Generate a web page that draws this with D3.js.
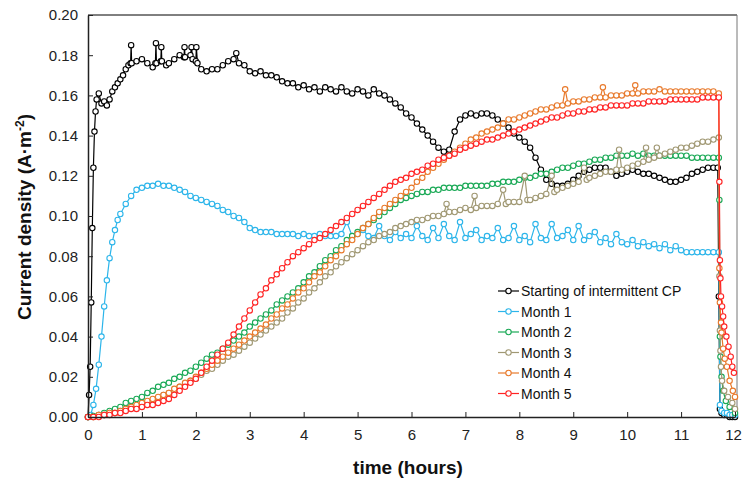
<!DOCTYPE html>
<html>
<head>
<meta charset="utf-8">
<script src="https://cdn.jsdelivr.net/npm/d3@7/dist/d3.min.js"></script>
<style>
  body { margin: 0; background: #fff; }
  text { font-family: Arial, "Liberation Sans", sans-serif; }
</style>
</head>
<body>
<svg id="chart" width="742" height="483"></svg>
<script>
// series data: [time (h), current density (A/m2)]
var startCP = [[0,0],[0.02,0.011],[0.04,0.025],[0.06,0.057],[0.08,0.094],[0.1,0.124],[0.12,0.142],[0.14,0.152],[0.16,0.158],[0.2,0.161],[0.25,0.156],[0.3,0.157],[0.35,0.155],[0.4,0.158],[0.45,0.162],[0.5,0.164],[0.55,0.166],[0.6,0.168],[0.65,0.170],[0.7,0.173],[0.75,0.175],[0.79,0.176],[0.8,0.185],[0.81,0.176],[0.9,0.177],[1.0,0.178],[1.1,0.176],[1.2,0.174],[1.25,0.176],[1.26,0.186],[1.27,0.176],[1.35,0.177],[1.36,0.184],[1.37,0.177],[1.45,0.175],[1.5,0.176],[1.6,0.178],[1.7,0.180],[1.78,0.179],[1.79,0.184],[1.8,0.179],[1.9,0.180],[1.92,0.184],[1.94,0.178],[2.0,0.177],[2.01,0.184],[2.03,0.176],[2.1,0.173],[2.2,0.172],[2.3,0.173],[2.4,0.173],[2.5,0.175],[2.6,0.177],[2.7,0.178],[2.75,0.181],[2.8,0.176],[2.9,0.175],[3.0,0.172],[3.1,0.171],[3.2,0.172],[3.3,0.170],[3.4,0.170],[3.5,0.169],[3.6,0.167],[3.7,0.166],[3.8,0.166],[3.9,0.164],[4.0,0.165],[4.1,0.163],[4.2,0.164],[4.3,0.162],[4.4,0.164],[4.5,0.163],[4.6,0.162],[4.7,0.164],[4.8,0.162],[4.9,0.161],[5.0,0.163],[5.1,0.162],[5.2,0.160],[5.3,0.163],[5.4,0.161],[5.5,0.160],[5.6,0.158],[5.7,0.156],[5.8,0.154],[5.9,0.151],[6.0,0.149],[6.1,0.146],[6.2,0.143],[6.3,0.140],[6.4,0.137],[6.5,0.134],[6.6,0.132],[6.7,0.133],[6.8,0.142],[6.9,0.148],[7.0,0.150],[7.1,0.151],[7.2,0.150],[7.3,0.151],[7.4,0.151],[7.5,0.150],[7.6,0.148],[7.7,0.146],[7.8,0.144],[7.9,0.141],[8.0,0.139],[8.1,0.137],[8.2,0.134],[8.3,0.129],[8.4,0.123],[8.5,0.118],[8.6,0.116],[8.7,0.115],[8.8,0.115],[8.9,0.116],[9.0,0.118],[9.1,0.120],[9.2,0.122],[9.3,0.123],[9.4,0.124],[9.5,0.124],[9.6,0.124],[9.7,0.122],[9.8,0.120],[9.9,0.121],[10.0,0.122],[10.1,0.123],[10.2,0.122],[10.3,0.121],[10.4,0.121],[10.5,0.120],[10.6,0.119],[10.7,0.118],[10.8,0.117],[10.9,0.117],[11.0,0.118],[11.1,0.119],[11.2,0.121],[11.3,0.122],[11.4,0.123],[11.5,0.124],[11.6,0.124],[11.68,0.124],[11.7,0.060],[11.72,0.004],[11.75,0.002],[11.8,0.001],[11.85,0.001],[11.9,0.000],[11.95,0.000],[12.0,0.000]];

var month1 = [[0,0],[0.05,0.001],[0.1,0.006],[0.15,0.014],[0.2,0.026],[0.25,0.040],[0.3,0.055],[0.35,0.068],[0.4,0.079],[0.45,0.087],[0.5,0.093],[0.55,0.098],[0.6,0.101],[0.7,0.106],[0.8,0.110],[0.9,0.113],[1.0,0.114],[1.1,0.115],[1.2,0.115],[1.3,0.116],[1.4,0.115],[1.5,0.115],[1.6,0.114],[1.7,0.113],[1.8,0.112],[1.9,0.110],[2.0,0.109],[2.1,0.108],[2.2,0.107],[2.3,0.106],[2.4,0.105],[2.5,0.103],[2.6,0.102],[2.7,0.100],[2.8,0.099],[2.9,0.097],[3.0,0.094],[3.1,0.093],[3.2,0.092],[3.3,0.092],[3.4,0.092],[3.5,0.091],[3.6,0.091],[3.7,0.091],[3.8,0.091],[3.9,0.090],[4.0,0.091],[4.1,0.090],[4.2,0.090],[4.3,0.091],[4.4,0.090],[4.5,0.090],[4.6,0.090],[4.7,0.091],[4.8,0.097],[4.9,0.090],[5.0,0.091],[5.1,0.093],[5.2,0.090],[5.3,0.089],[5.4,0.095],[5.5,0.090],[5.6,0.088],[5.7,0.092],[5.8,0.089],[5.9,0.091],[6.0,0.089],[6.1,0.095],[6.2,0.090],[6.3,0.088],[6.4,0.094],[6.5,0.089],[6.6,0.096],[6.7,0.090],[6.8,0.088],[6.9,0.097],[7.0,0.089],[7.1,0.091],[7.2,0.093],[7.3,0.088],[7.4,0.090],[7.5,0.089],[7.6,0.094],[7.7,0.088],[7.8,0.089],[7.9,0.095],[8.0,0.088],[8.1,0.090],[8.2,0.087],[8.3,0.096],[8.4,0.089],[8.5,0.088],[8.6,0.096],[8.7,0.089],[8.8,0.090],[8.9,0.093],[9.0,0.088],[9.1,0.095],[9.2,0.088],[9.3,0.090],[9.4,0.092],[9.5,0.087],[9.6,0.089],[9.7,0.086],[9.8,0.091],[9.9,0.087],[10.0,0.086],[10.1,0.088],[10.2,0.085],[10.3,0.087],[10.4,0.085],[10.5,0.086],[10.6,0.084],[10.7,0.086],[10.8,0.083],[10.9,0.085],[11.0,0.083],[11.1,0.082],[11.2,0.082],[11.3,0.082],[11.4,0.082],[11.5,0.082],[11.6,0.082],[11.7,0.082],[11.72,0.006],[11.75,0.003],[11.8,0.002],[11.85,0.002],[11.9,0.001],[11.95,0.001],[12.0,0.001]];

var month2 = [[0,0],[0.1,0.0005],[0.2,0.001],[0.3,0.002],[0.4,0.003],[0.5,0.004],[0.6,0.005],[0.7,0.007],[0.8,0.008],[0.9,0.009],[1.0,0.010],[1.1,0.012],[1.2,0.013],[1.3,0.015],[1.4,0.016],[1.5,0.017],[1.6,0.019],[1.7,0.020],[1.8,0.022],[1.9,0.023],[2.0,0.025],[2.1,0.027],[2.2,0.029],[2.3,0.031],[2.4,0.032],[2.5,0.034],[2.6,0.036],[2.7,0.038],[2.8,0.040],[2.9,0.042],[3.0,0.045],[3.1,0.047],[3.2,0.049],[3.3,0.051],[3.4,0.053],[3.5,0.056],[3.6,0.058],[3.7,0.060],[3.8,0.062],[3.9,0.064],[4.0,0.067],[4.1,0.070],[4.2,0.072],[4.3,0.075],[4.4,0.078],[4.5,0.080],[4.6,0.083],[4.7,0.085],[4.8,0.088],[4.9,0.090],[5.0,0.092],[5.1,0.094],[5.2,0.096],[5.3,0.098],[5.4,0.100],[5.5,0.102],[5.6,0.104],[5.7,0.106],[5.8,0.108],[5.9,0.109],[6.0,0.110],[6.1,0.111],[6.2,0.112],[6.3,0.112],[6.4,0.113],[6.5,0.113],[6.6,0.114],[6.7,0.114],[6.8,0.114],[6.9,0.114],[7.0,0.115],[7.1,0.115],[7.2,0.115],[7.3,0.115],[7.4,0.115],[7.5,0.116],[7.6,0.116],[7.7,0.117],[7.8,0.117],[7.9,0.117],[8.0,0.118],[8.1,0.119],[8.2,0.119],[8.3,0.120],[8.4,0.121],[8.5,0.121],[8.6,0.122],[8.7,0.123],[8.8,0.124],[8.9,0.124],[9.0,0.125],[9.1,0.126],[9.2,0.126],[9.3,0.127],[9.4,0.128],[9.5,0.128],[9.6,0.129],[9.7,0.129],[9.8,0.130],[9.9,0.130],[10.0,0.130],[10.1,0.131],[10.2,0.130],[10.3,0.131],[10.4,0.130],[10.5,0.130],[10.6,0.130],[10.7,0.130],[10.8,0.130],[10.9,0.130],[11.0,0.130],[11.1,0.130],[11.2,0.129],[11.3,0.129],[11.4,0.129],[11.5,0.129],[11.6,0.129],[11.7,0.129],[11.71,0.108],[11.72,0.040],[11.73,0.030],[11.75,0.020],[11.78,0.013],[11.83,0.008],[11.9,0.005],[12.0,0.002]];

var month3 = [[0,0],[0.1,0.000],[0.2,0.001],[0.3,0.001],[0.4,0.002],[0.5,0.002],[0.6,0.003],[0.7,0.004],[0.8,0.005],[0.9,0.005],[1.0,0.006],[1.1,0.007],[1.2,0.008],[1.3,0.009],[1.4,0.011],[1.5,0.012],[1.6,0.013],[1.7,0.015],[1.8,0.016],[1.9,0.018],[2.0,0.019],[2.1,0.021],[2.2,0.023],[2.3,0.024],[2.4,0.026],[2.5,0.028],[2.6,0.030],[2.7,0.031],[2.8,0.033],[2.9,0.035],[3.0,0.037],[3.1,0.039],[3.2,0.041],[3.3,0.043],[3.4,0.045],[3.5,0.047],[3.6,0.049],[3.7,0.052],[3.8,0.054],[3.9,0.057],[4.0,0.059],[4.1,0.062],[4.2,0.064],[4.3,0.067],[4.4,0.070],[4.5,0.072],[4.6,0.075],[4.7,0.077],[4.8,0.079],[4.9,0.081],[5.0,0.083],[5.1,0.085],[5.2,0.087],[5.3,0.088],[5.4,0.090],[5.5,0.091],[5.6,0.092],[5.7,0.094],[5.8,0.095],[5.9,0.096],[6.0,0.097],[6.1,0.098],[6.2,0.098],[6.3,0.099],[6.4,0.100],[6.5,0.100],[6.6,0.101],[6.65,0.106],[6.7,0.102],[6.8,0.102],[6.9,0.103],[7.0,0.104],[7.1,0.103],[7.17,0.110],[7.2,0.104],[7.3,0.105],[7.4,0.105],[7.5,0.105],[7.6,0.106],[7.7,0.113],[7.75,0.106],[7.8,0.107],[7.9,0.107],[8.0,0.107],[8.1,0.120],[8.15,0.108],[8.2,0.108],[8.3,0.109],[8.4,0.110],[8.5,0.111],[8.6,0.120],[8.65,0.112],[8.7,0.113],[8.8,0.114],[8.9,0.115],[9.0,0.116],[9.1,0.117],[9.2,0.124],[9.25,0.118],[9.3,0.119],[9.4,0.120],[9.5,0.121],[9.6,0.122],[9.7,0.122],[9.8,0.123],[9.85,0.133],[9.9,0.123],[10.0,0.124],[10.1,0.125],[10.2,0.126],[10.3,0.127],[10.35,0.134],[10.4,0.128],[10.5,0.129],[10.55,0.134],[10.6,0.130],[10.7,0.131],[10.8,0.132],[10.9,0.133],[11.0,0.134],[11.1,0.134],[11.2,0.135],[11.3,0.136],[11.4,0.137],[11.5,0.137],[11.6,0.138],[11.7,0.139],[11.71,0.070],[11.72,0.043],[11.73,0.033],[11.74,0.025],[11.76,0.018],[11.8,0.013],[11.87,0.010],[11.95,0.007],[12.0,0.004]];

var month4 = [[0,0],[0.1,0.000],[0.2,0.001],[0.3,0.001],[0.4,0.002],[0.5,0.002],[0.6,0.003],[0.7,0.004],[0.8,0.005],[0.9,0.006],[1.0,0.007],[1.1,0.008],[1.2,0.009],[1.3,0.010],[1.4,0.011],[1.5,0.012],[1.6,0.014],[1.7,0.015],[1.8,0.017],[1.9,0.018],[2.0,0.020],[2.1,0.022],[2.2,0.024],[2.3,0.026],[2.4,0.028],[2.5,0.030],[2.6,0.032],[2.7,0.034],[2.8,0.036],[2.9,0.038],[3.0,0.040],[3.1,0.042],[3.2,0.044],[3.3,0.046],[3.4,0.049],[3.5,0.051],[3.6,0.054],[3.7,0.056],[3.8,0.059],[3.9,0.062],[4.0,0.064],[4.1,0.067],[4.2,0.070],[4.3,0.072],[4.4,0.075],[4.5,0.078],[4.6,0.080],[4.7,0.083],[4.8,0.086],[4.9,0.088],[5.0,0.091],[5.1,0.094],[5.2,0.096],[5.3,0.099],[5.4,0.102],[5.5,0.104],[5.6,0.106],[5.7,0.108],[5.8,0.110],[5.9,0.112],[6.0,0.114],[6.1,0.117],[6.2,0.119],[6.3,0.122],[6.4,0.124],[6.5,0.126],[6.6,0.128],[6.7,0.130],[6.8,0.132],[6.9,0.134],[7.0,0.136],[7.1,0.138],[7.2,0.139],[7.3,0.141],[7.4,0.142],[7.5,0.143],[7.6,0.144],[7.7,0.146],[7.8,0.148],[7.9,0.148],[8.0,0.149],[8.1,0.150],[8.2,0.151],[8.3,0.152],[8.4,0.153],[8.5,0.153],[8.6,0.154],[8.7,0.155],[8.8,0.155],[8.85,0.163],[8.9,0.156],[9.0,0.157],[9.1,0.157],[9.2,0.158],[9.3,0.158],[9.4,0.159],[9.5,0.159],[9.55,0.164],[9.6,0.159],[9.7,0.160],[9.8,0.160],[9.9,0.160],[10.0,0.161],[10.1,0.161],[10.15,0.165],[10.2,0.161],[10.3,0.162],[10.4,0.162],[10.5,0.162],[10.6,0.163],[10.7,0.162],[10.8,0.162],[10.9,0.162],[11.0,0.162],[11.1,0.162],[11.2,0.162],[11.3,0.162],[11.4,0.162],[11.5,0.162],[11.6,0.162],[11.7,0.161],[11.71,0.074],[11.72,0.057],[11.74,0.047],[11.75,0.042],[11.78,0.034],[11.81,0.029],[11.85,0.025],[11.9,0.018],[11.96,0.013],[12.0,0.010]];

var month5 = [[0,0],[0.1,0.000],[0.2,0.000],[0.3,0.001],[0.4,0.001],[0.5,0.002],[0.6,0.002],[0.7,0.003],[0.8,0.004],[0.9,0.004],[1.0,0.005],[1.1,0.006],[1.2,0.006],[1.3,0.007],[1.4,0.008],[1.5,0.009],[1.6,0.011],[1.7,0.013],[1.8,0.015],[1.9,0.017],[2.0,0.019],[2.1,0.022],[2.2,0.025],[2.3,0.028],[2.4,0.031],[2.5,0.034],[2.6,0.037],[2.7,0.041],[2.8,0.045],[2.9,0.049],[3.0,0.053],[3.1,0.057],[3.2,0.061],[3.3,0.064],[3.4,0.068],[3.5,0.071],[3.6,0.074],[3.7,0.077],[3.8,0.080],[3.9,0.082],[4.0,0.084],[4.1,0.086],[4.2,0.088],[4.3,0.089],[4.4,0.091],[4.5,0.093],[4.6,0.095],[4.7,0.097],[4.8,0.099],[4.9,0.101],[5.0,0.103],[5.1,0.105],[5.2,0.107],[5.3,0.109],[5.4,0.111],[5.5,0.113],[5.6,0.115],[5.7,0.117],[5.8,0.118],[5.9,0.119],[6.0,0.121],[6.1,0.122],[6.2,0.123],[6.3,0.125],[6.4,0.126],[6.5,0.128],[6.6,0.129],[6.7,0.130],[6.8,0.131],[6.9,0.133],[7.0,0.134],[7.1,0.135],[7.2,0.136],[7.3,0.137],[7.4,0.138],[7.5,0.138],[7.6,0.139],[7.7,0.140],[7.8,0.141],[7.9,0.142],[8.0,0.143],[8.1,0.144],[8.2,0.145],[8.3,0.146],[8.4,0.147],[8.5,0.148],[8.6,0.149],[8.7,0.149],[8.8,0.150],[8.9,0.151],[9.0,0.151],[9.1,0.152],[9.2,0.152],[9.3,0.153],[9.4,0.153],[9.5,0.154],[9.6,0.154],[9.7,0.155],[9.8,0.155],[9.9,0.155],[10.0,0.155],[10.1,0.156],[10.2,0.156],[10.3,0.156],[10.4,0.157],[10.5,0.157],[10.6,0.157],[10.7,0.157],[10.8,0.158],[10.9,0.158],[11.0,0.158],[11.1,0.158],[11.2,0.158],[11.3,0.158],[11.4,0.159],[11.5,0.159],[11.6,0.159],[11.7,0.159],[11.71,0.117],[11.72,0.078],[11.73,0.069],[11.74,0.060],[11.76,0.055],[11.78,0.050],[11.8,0.045],[11.84,0.040],[11.88,0.035],[11.92,0.030],[11.95,0.025],[11.98,0.022]];

var seriesNames = ["Starting of intermittent CP", "Month 1", "Month 2", "Month 3", "Month 4", "Month 5"];
var seriesColors = ["#000000", "#2cb5ea", "#1aa956", "#a09873", "#e8792b", "#ff2424"];
var seriesData = [startCP, month1, month2, month3, month4, month5];

var xTicks = d3.range(0, 13, 1);
var yTicks = [0, 0.02, 0.04, 0.06, 0.08, 0.10, 0.12, 0.14, 0.16, 0.18, 0.20];

(function(){
var svg = d3.select("#chart");
var pLeft = 88, pRight = 735, pTop = 15, pBottom = 417;

var x = d3.scaleLinear().domain([0, 12]).range([pLeft, pRight]);
var y = d3.scaleLinear().domain([0, 0.2]).range([pBottom, pTop]);

// frame top / right
svg.append("line").attr("x1", pLeft).attr("x2", pRight + 2).attr("y1", pTop).attr("y2", pTop)
    .attr("stroke", "#000").attr("stroke-width", 1);
svg.append("line").attr("x1", pRight + 2).attr("x2", pRight + 2).attr("y1", pTop).attr("y2", pBottom)
    .attr("stroke", "#777").attr("stroke-width", 1);

var lineGen = d3.line().x(function(d){ return x(d[0]); }).y(function(d){ return y(d[1]); });

seriesData.forEach(function(data, i){
    var g = svg.append("g");
    g.append("path").datum(data)
        .attr("d", lineGen)
        .attr("fill", "none")
        .attr("stroke", seriesColors[i])
        .attr("stroke-width", 1.2);
    g.selectAll("circle").data(data).enter().append("circle")
        .attr("cx", function(d){ return x(d[0]); })
        .attr("cy", function(d){ return y(d[1]); })
        .attr("r", 2.7)
        .attr("fill", "#fff")
        .attr("stroke", seriesColors[i])
        .attr("stroke-width", 1.1);
});

// axes (ticks pointing inward)
var xAxis = svg.append("g").attr("transform", "translate(0," + pBottom + ")")
    .call(d3.axisBottom(x).tickValues(xTicks).tickSizeInner(-5).tickSizeOuter(0).tickPadding(12).tickFormat(d3.format("d")));
var yAxis = svg.append("g").attr("transform", "translate(" + pLeft + ",0)")
    .call(d3.axisLeft(y).tickValues(yTicks).tickSizeInner(-5).tickSizeOuter(0).tickPadding(10).tickFormat(d3.format(".2f")));

[xAxis, yAxis].forEach(function(a){
    a.select(".domain").attr("stroke", "#222").attr("stroke-width", 1.5);
    a.selectAll(".tick line").attr("stroke", "#222");
    a.selectAll(".tick text").attr("font-size", 15).attr("fill", "#222")
        .attr("font-family", "Arial, 'Liberation Sans', sans-serif");
});
// keep the last x label inside the picture
xAxis.selectAll(".tick text").filter(function(d){ return d === 12; }).attr("dx", -2);

// axis titles
svg.append("text")
    .attr("x", 408).attr("y", 474)
    .attr("text-anchor", "middle")
    .attr("font-size", 19).attr("font-weight", "bold").attr("fill", "#111")
    .text("time (hours)");

var yTitle = svg.append("text")
    .attr("transform", "translate(31,217) rotate(-90)")
    .attr("text-anchor", "middle")
    .attr("font-size", 19).attr("font-weight", "bold").attr("fill", "#111");
yTitle.append("tspan").text("Current density (A·m");
yTitle.append("tspan").attr("baseline-shift", "super").attr("font-size", 12).text("-2");
yTitle.append("tspan").text(")");

// legend
var legend = svg.append("g").attr("transform", "translate(498,291)");
seriesNames.forEach(function(name, i){
    var row = legend.append("g").attr("transform", "translate(0," + (i * 20.5) + ")");
    row.append("line").attr("x1", 0).attr("x2", 21).attr("y1", 0).attr("y2", 0)
        .attr("stroke", seriesColors[i]).attr("stroke-width", 1.2);
    row.append("circle").attr("cx", 10.5).attr("cy", 0).attr("r", 2.7)
        .attr("fill", "#fff").attr("stroke", seriesColors[i]).attr("stroke-width", 1.1);
    row.append("text").attr("x", 23).attr("y", 5)
        .attr("font-size", 14).attr("fill", "#111").text(name);
});
})();
</script>
</body>
</html>
